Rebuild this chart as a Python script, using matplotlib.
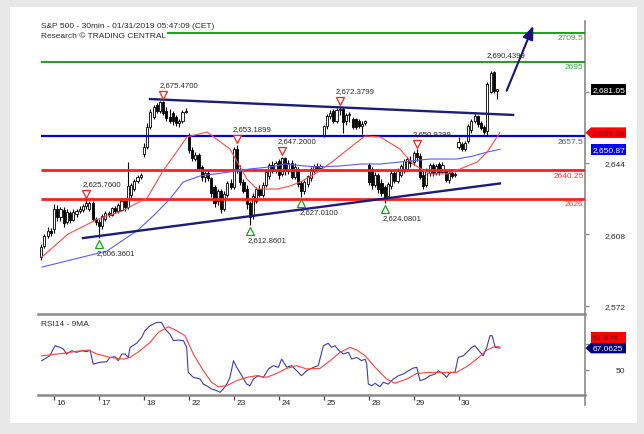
import matplotlib
matplotlib.use('Agg')
import matplotlib.pyplot as plt
from matplotlib.patches import Rectangle, Polygon
from matplotlib.lines import Line2D
import matplotlib.transforms as mtrans

plt.rcParams['font.family'] = ['Liberation Sans', 'DejaVu Sans']

# ---------------- data ----------------
title = "S&P 500 - 30min - 01/31/2019 05:47:09 (CET)"
subtitle = "Research \u00a9 TRADING CENTRAL"
rsi_title = "RSI14 - 9MA"

day_labels = ['16', '17', '18', '22', '23', '24', '25', '28', '29', '30']
day_start_bar = [4, 18, 32, 46, 60, 74, 88, 102, 116, 130]

opens = [2596.5, 2602, 2607, 2610,
         2611, 2621, 2617, 2620.5, 2614.5, 2619, 2615.5, 2618.5, 2620, 2620.5, 2622.5, 2621, 2624, 2616,
         2614.5, 2612.5, 2616, 2619, 2618, 2621.5, 2620, 2620.5, 2625, 2622, 2628, 2631, 2635, 2637,
         2648.5, 2652, 2662, 2667, 2673, 2670, 2674.5, 2670, 2667, 2669, 2667, 2664, 2665, 2669.5,
         2657, 2650.5, 2646, 2648, 2642, 2637, 2639, 2636.5, 2632, 2625, 2630, 2621, 2628, 2634,
         2632, 2651, 2641, 2634.5, 2631, 2624, 2617.5, 2625, 2631, 2628, 2633, 2637.5, 2643, 2640,
         2645, 2638.5, 2646.5, 2640, 2644, 2637, 2641, 2634, 2630, 2633.5, 2636.5, 2640, 2642.5, 2641.5,
         2657.5, 2662.5, 2667.5, 2670, 2665, 2670.5, 2671, 2665, 2668, 2666, 2666, 2665, 2662.5, 2664,
         2643, 2641, 2633, 2638, 2634, 2632, 2627.5, 2632.5, 2639, 2635, 2638, 2640, 2641, 2645,
         2644.5, 2649, 2647.5, 2638, 2633, 2639, 2643, 2639, 2643.5, 2639.5, 2640, 2635.5, 2639, 2638,
         2652, 2653.5, 2651, 2655, 2660.5, 2665, 2667.5, 2664, 2662, 2660, 2680, 2690, 2680.5]
highs = [2603, 2608, 2612, 2611.5,
         2623.5, 2623, 2622, 2622, 2621, 2620, 2621, 2621, 2622.5, 2623.5, 2625.76, 2625, 2625, 2617,
         2616, 2618.5, 2620, 2620, 2622, 2622.5, 2624, 2626.5, 2626, 2644.3, 2634, 2636, 2638, 2639,
         2654, 2664, 2671, 2673, 2674, 2675, 2675.47, 2672, 2671, 2670, 2668, 2666, 2670.5, 2671.5,
         2659, 2652, 2649.5, 2649, 2643, 2640, 2640.5, 2637, 2633, 2631, 2631, 2630, 2635, 2636,
         2652, 2653.19, 2643, 2636, 2633, 2625, 2629, 2632, 2633, 2634.5, 2641, 2644, 2645, 2645,
         2646, 2647.2, 2647, 2645.5, 2645.5, 2644, 2642, 2635, 2635.5, 2638, 2642, 2643.5, 2644, 2643.5,
         2663, 2668.5, 2670.5, 2671, 2671.5, 2672.38, 2672, 2669, 2669.5, 2667, 2666.5, 2666, 2665, 2665.5,
         2644, 2642, 2639.5, 2639, 2636, 2633, 2634.5, 2640.5, 2640, 2641.5, 2643.5, 2646, 2647, 2647.5,
         2650, 2650.93, 2649, 2641, 2641.5, 2644, 2644, 2643.5, 2644.5, 2644.5, 2641, 2640, 2640, 2639.5,
         2657, 2654.5, 2655, 2663.5, 2666, 2669.5, 2668, 2665, 2663, 2685, 2690.44, 2690.44, 2681.5]
lows = [2595, 2601, 2606, 2607,
        2609, 2615, 2615, 2612, 2613.5, 2614, 2615, 2617, 2619, 2619.5, 2621, 2620, 2615, 2613,
        2606.36, 2611, 2615, 2617, 2617.5, 2619, 2619, 2620, 2620, 2621, 2626, 2630, 2634, 2636,
        2647, 2651, 2661, 2666, 2669, 2669, 2668, 2665, 2664, 2663, 2662.5, 2662, 2664, 2669,
        2649, 2645, 2645, 2640, 2635, 2634.5, 2635, 2627, 2622, 2623, 2619, 2620, 2627, 2631,
        2631, 2639, 2633, 2629, 2621, 2612.86, 2616, 2624, 2627, 2627, 2632, 2636, 2639, 2639,
        2636, 2637.5, 2638, 2638.5, 2636, 2636, 2632, 2627.01, 2628.5, 2632, 2635, 2639, 2640, 2641,
        2657, 2661, 2666, 2664, 2664, 2668, 2659, 2663, 2664.5, 2661, 2661, 2661.5, 2658.5, 2663,
        2633, 2631, 2632, 2629, 2627.5, 2624.08, 2626.5, 2631, 2634, 2634, 2637, 2639, 2640, 2642,
        2643, 2645, 2636, 2631, 2632, 2637.5, 2637.5, 2638, 2638, 2639, 2634.5, 2634, 2636.5, 2637,
        2651, 2650, 2650, 2654, 2659, 2664, 2662, 2660.5, 2658.5, 2657.5, 2679, 2679, 2676]
closes = [2601.5, 2607, 2610, 2609,
          2621, 2617, 2620.8, 2614, 2619.5, 2615.5, 2619.5, 2620, 2621, 2622.5, 2624, 2624, 2616, 2614.5,
          2612.5, 2617.5, 2619, 2618, 2621.5, 2620, 2623, 2625, 2622, 2632.5, 2633, 2635, 2637, 2638,
          2652, 2662, 2669.5, 2672, 2670, 2674.5, 2669, 2666.5, 2665, 2665, 2664, 2665, 2669.5, 2670,
          2650.5, 2646.5, 2648, 2641.5, 2637, 2639, 2636.5, 2629, 2624, 2630, 2621, 2628.5, 2634, 2632,
          2651, 2641, 2634.5, 2630, 2623.5, 2617, 2627.5, 2631, 2628, 2633, 2639.5, 2643, 2640, 2644,
          2638, 2646.5, 2640, 2644, 2637, 2642, 2633.5, 2630, 2634.5, 2637.5, 2641, 2642.5, 2641.5, 2642.5,
          2662.5, 2667.5, 2669, 2665, 2670.5, 2671, 2664.5, 2668, 2668.5, 2662, 2662, 2662.5, 2663.5, 2665,
          2634.5, 2633, 2638, 2631, 2629, 2627, 2633.5, 2639, 2635, 2640, 2642.5, 2645, 2646, 2644,
          2649, 2647, 2637, 2632.5, 2640.5, 2643, 2639, 2642.5, 2639.5, 2643, 2635.5, 2639, 2637.5, 2638.5,
          2654.5, 2651, 2654, 2662.5, 2665, 2667.5, 2663.5, 2661.5, 2659.5, 2684, 2689.5, 2680.5, 2681.05]

# price moving averages (vertices at bar positions)
ma_fast_x = [0.25, 8.35, 17.7, 25.2, 29.2, 33.0, 37.9, 41.7, 45.4, 51.7, 58.8, 64.1, 67.2, 70.6,
             73.5, 77.5, 80.6, 85.3, 90.6, 95.6, 100.9, 105.6, 111.8, 115.8, 121.1, 126.4, 130.5,
             135.8, 138.9, 142.9]
ma_fast = [2596.7, 2608.2, 2615.8, 2619.8, 2623.3, 2626.3, 2639.9, 2648.5, 2657.1, 2659.6, 2651.0,
           2635.9, 2630.9, 2630.9, 2630.9, 2632.4, 2634.4, 2638.5, 2644.5, 2651.0, 2657.6, 2657.1,
           2651.0, 2643.5, 2638.5, 2638.5, 2641.0, 2644.5, 2649.5, 2659.28]
ma_slow_x = [0.25, 10.5, 20.5, 30.2, 35.5, 40.1, 44.2, 49.5, 58.8, 65.0, 71.3, 75.9, 82.2, 86.2,
             93.1, 99.9, 105.6, 111.8, 121.1, 129.5, 134.5, 138.9, 142.9]
ma_slow = [2591.6, 2595.7, 2599.7, 2610.3, 2618.3, 2625.9, 2634.4, 2637.5, 2639.5, 2641.0, 2642.0,
           2643.5, 2642.5, 2642.0, 2642.5, 2643.5, 2643.5, 2644.5, 2646.0, 2646.0, 2647.5, 2649.5,
           2650.87]

levels = [2709.5, 2695, 2657.5, 2640.25, 2626]
level_labels = ['2709.5', '2695', '2657.5', '2640.25', '2626']

trend_upper_x = [33.9, 147.0]
trend_upper_y = [2676.2, 2668.2]
trend_lower_x = [13.0, 142.9]
trend_lower_y = [2606.2, 2633.7]
arrow_x = [145.0, 153.3]
arrow_y = [2680.4, 2713.1]

peak_bars = [14, 38, 61, 75, 93, 117, 140]
peak_vals = [2625.76, 2675.47, 2653.1899, 2647.20, 2672.3799, 2650.9299, 2690.4399]
peak_has_marker = [True, True, True, True, True, True, False]
trough_bars = [18, 65, 81, 107]
trough_vals = [2606.3601, 2612.8601, 2627.0100, 2624.0801]

price_ticks = [2572, 2608, 2644]
price_hidden_ticks = [2680]
last_close = 2681.05
ma_fast_last = 2659.28
ma_slow_last = 2650.87

rsi_x = [0.15, 2.7, 4.3, 5.9, 6.9, 7.9, 9.5, 11.0, 12.6, 14.2, 15.2, 16.2, 18.3, 20.4, 21.4, 23.0,
         24.0, 25.1, 26.1, 27.1, 27.7, 29.7, 31.3, 32.3, 33.9, 36.0, 37.5, 38.6, 40.1, 41.2, 42.7,
         44.3, 45.3, 45.8, 47.4, 49.5, 50.5, 51.5, 53.1, 54.7, 55.7, 56.7, 57.8, 58.8, 59.9, 60.9,
         62.5, 64.0, 65.0, 66.1, 67.6, 69.2, 70.8, 72.3, 73.9, 74.9, 76.5, 78.0, 79.6, 81.1, 82.7,
         84.8, 86.3, 87.9, 89.4, 90.5, 91.5, 92.6, 94.1, 95.7, 96.7, 98.3, 99.8, 100.9, 101.4, 101.9,
         103.0, 104.0, 105.5, 106.6, 108.1, 109.7, 111.3, 112.8, 114.4, 115.9, 117.0, 118.0, 119.6,
         121.1, 122.7, 123.7, 125.3, 126.3, 127.4, 128.9, 129.9, 131.5, 133.1, 134.1, 135.1, 136.2,
         137.7, 138.8, 139.8, 140.5, 141.4, 142.9]
rsi_vals = [57.1, 61.0, 68.9, 67.6, 66.3, 62.4, 65.0, 63.7, 65.0, 64.2, 65.5, 54.5, 55.8, 56.3, 59.7,
            60.3, 57.1, 62.4, 62.4, 59.7, 67.6, 70.8, 75.5, 80.7, 84.7, 87.3, 87.3, 82.0, 78.1, 72.9,
            73.4, 72.9, 67.6, 47.9, 44.0, 42.7, 38.7, 37.4, 34.8, 33.5, 32.2, 34.8, 38.7, 44.0, 57.1,
            51.9, 45.3, 38.7, 37.4, 42.7, 45.3, 44.0, 50.6, 53.2, 51.9, 58.4, 51.9, 53.2, 49.2, 45.3,
            49.2, 51.9, 53.2, 68.9, 70.8, 67.6, 68.9, 65.5, 62.4, 63.7, 58.4, 59.7, 57.1, 58.4, 54.5,
            38.7, 37.4, 39.3, 36.6, 40.1, 38.7, 42.7, 45.3, 46.6, 49.2, 51.3, 51.9, 41.4, 42.7, 45.3,
            46.6, 49.2, 46.6, 44.0, 47.9, 47.9, 59.7, 61.0, 65.0, 67.6, 68.9, 65.5, 61.0, 67.6, 76.8,
            76.8, 67.6, 67.0625]
rsi_ma_x = [0.15, 6.9, 11.0, 14.7, 17.3, 21.4, 25.6, 27.7, 30.8, 33.9, 36.5, 39.6, 42.2, 44.8, 47.4,
            50.5, 53.1, 55.2, 57.8, 60.9, 64.0, 67.1, 70.2, 73.4, 76.5, 79.6, 82.7, 86.9, 90.0, 93.1,
            96.2, 98.3, 100.9, 104.5, 107.6, 110.2, 113.9, 117.0, 121.1, 125.3, 129.4, 132.5, 135.7,
            138.8, 141.4, 142.9]
rsi_ma_vals = [61.0, 62.9, 64.5, 65.5, 62.4, 59.7, 58.4, 59.7, 65.0, 71.5, 79.4, 83.9, 80.7, 76.8,
               62.4, 49.2, 40.1, 36.6, 37.4, 41.4, 44.0, 45.3, 44.0, 47.1, 51.1, 53.2, 50.6, 51.1,
               57.1, 63.7, 67.6, 65.5, 61.0, 50.6, 42.7, 39.3, 42.7, 47.1, 47.9, 47.9, 47.9, 52.4,
               58.4, 65.5, 68.4, 67.834]
rsi_ticks = [50]
rsi_hidden_ticks = [70]
rsi_last = 67.0625
rsi_ma_last = 67.834

# ---------------- styles ----------------
W, H = 644, 435
GREEN, GREEN_T = '#00a000', '#3aa83a'
BLUE_L, BLUE_T = '#0000c8', '#4a4aff'
RED_L, RED_T = '#ff1e1e', '#ff3a3a'
NAVY = '#1c1c7a'
GRAY = '#8a8a8a'
TXT = '#2a2a2a'
FS = 6.0


def fx(x):
    return x / W


def fy(y):
    return 1 - y / H


fig = plt.figure(figsize=(W / 100, H / 100), dpi=100)
fig.patch.set_facecolor('#e8e8e8')
fig.add_artist(Rectangle((fx(10), fy(424)), fx(627), 416 / H, transform=fig.transFigure,
                         facecolor='white', edgecolor='none', zorder=-10))

ax = fig.add_axes([fx(38), fy(315), 547 / W, 293 / H])
ax2 = fig.add_axes([fx(38), fy(396), 547 / W, 81 / H])
for a in (ax, ax2):
    a.set_facecolor('none')
    a.set_xlim(-1.0, 169.4)
ax.set_ylim(2567.97, 2715.5)
ax2.set_ylim(30.1, 93.9)

# ---- candles ----
n = len(closes)
xs = list(range(n))
ax.vlines(xs, lows, highs, color='black', lw=0.8, zorder=2)
for i in xs:
    o, c = opens[i], closes[i]
    lo, hi = min(o, c), max(o, c)
    h = max(hi - lo, 0.35)
    up = c >= o
    ax.add_patch(Rectangle((i - 0.33, lo), 0.66, h, facecolor='white' if up else 'black',
                           edgecolor='black', lw=0.6, zorder=2.5))

# ---- levels ----
lvl_colors = [GREEN, GREEN, BLUE_L, RED_L, RED_L]
lvl_tcolors = [GREEN_T, GREEN_T, BLUE_T, RED_T, RED_T]
lvl_lw = [1.3, 1.3, 1.6, 2.0, 2.0]
for v, lab, c, tc, lw in zip(levels, level_labels, lvl_colors, lvl_tcolors, lvl_lw):
    ax.plot([-0.1, 169.4], [v, v], color=c, lw=lw, zorder=3, solid_capstyle='butt')
    tr = mtrans.offset_copy(mtrans.blended_transform_factory(ax.transAxes, ax.transData),
                            fig=fig, x=-1.5, y=-1.5, units='dots')
    ax.text(1.0, v, lab, transform=tr, ha='right', va='top', fontsize=FS, color=tc, zorder=4)

# ---- moving averages ----
ax.plot(ma_slow_x, ma_slow, color='#5a5aff', lw=0.8, zorder=3.2)
ax.plot(ma_fast_x, ma_fast, color='#ff4a4a', lw=0.8, zorder=3.3)

# ---- trend lines & arrow ----
ax.plot(trend_upper_x, trend_upper_y, color=NAVY, lw=1.7, zorder=3.5)
ax.plot(trend_lower_x, trend_lower_y, color=NAVY, lw=1.7, zorder=3.5)
ax.annotate('', xy=(arrow_x[1], arrow_y[1]), xytext=(arrow_x[0], arrow_y[0]),
            arrowprops=dict(arrowstyle='-|>,head_length=0.8,head_width=0.32', color='#14147a',
                            lw=1.5, shrinkA=0, shrinkB=0), zorder=4)

# ---- peaks / troughs ----
for b, v, m in zip(peak_bars, peak_vals, peak_has_marker):
    if m:
        tr = mtrans.offset_copy(ax.transData, fig=fig, x=0, y=5.5, units='dots')
        ax.plot([b], [v], marker='v', ms=6.2, mfc='white', mec='#ff2020', mew=0.9,
                transform=tr, zorder=5, linestyle='none')
    tr = mtrans.offset_copy(ax.transData, fig=fig, x=-4, y=16, units='dots')
    ax.text(b, v, f"{v:,.4f}", transform=tr, ha='left', va='center', fontsize=5.6,
            color=TXT, zorder=5)
for b, v in zip(trough_bars, trough_vals):
    tr = mtrans.offset_copy(ax.transData, fig=fig, x=0, y=-6, units='dots')
    ax.plot([b], [v], marker='^', ms=6.2, mfc='white', mec='#18a018', mew=0.9,
            transform=tr, zorder=5, linestyle='none')
    tr = mtrans.offset_copy(ax.transData, fig=fig, x=-2, y=-15, units='dots')
    ax.text(b, v, f"{v:,.4f}", transform=tr, ha='left', va='center', fontsize=5.6,
            color=TXT, zorder=5)

# ---- main axis styling ----
for s in ('left', 'top', 'bottom'):
    ax.spines[s].set_visible(False)
ax.spines['right'].set_color(GRAY)
ax.spines['right'].set_linewidth(1.2)
ax.set_xticks([])
ax.yaxis.tick_right()
ax.set_yticks(price_ticks)
ax.set_yticks(price_hidden_ticks, minor=True)
ax.set_yticklabels([f"{t:,}" for t in price_ticks])
ax.tick_params(axis='y', which='both', length=3, width=0.9, color=GRAY, pad=26, labelsize=FS,
               labelcolor=TXT)
for lab in ax.get_yticklabels():
    lab.set_horizontalalignment('right')

# ---- RSI panel ----
ax2.plot(rsi_x, rsi_vals, color='#3c3ca8', lw=0.8, zorder=3)
ax2.plot(rsi_ma_x, rsi_ma_vals, color='#ff4040', lw=0.8, zorder=3)
ax2.spines['left'].set_visible(False)
for s in ('top', 'bottom'):
    ax2.spines[s].set_color(GRAY)
    ax2.spines[s].set_linewidth(1.8)
ax2.spines['right'].set_color(GRAY)
ax2.spines['right'].set_linewidth(1.2)
ax2.yaxis.tick_right()
ax2.set_yticks(rsi_ticks)
ax2.set_yticks(rsi_hidden_ticks, minor=True)
ax2.set_yticklabels([str(t) for t in rsi_ticks])
ax2.tick_params(axis='y', which='both', length=3, width=0.9, color=GRAY, pad=26, labelsize=FS,
                labelcolor=TXT)
for lab in ax2.get_yticklabels():
    lab.set_horizontalalignment('right')
ax2.set_xticks(day_start_bar)
ax2.set_xticklabels([])
ax2.tick_params(axis='x', length=3.5, width=0.9, color='#444444', direction='out')
trx = mtrans.offset_copy(mtrans.blended_transform_factory(ax2.transData, ax2.transAxes),
                         fig=fig, x=2.5, y=-7.5, units='dots')
for d, lab in zip(day_start_bar, day_labels):
    ax2.text(d, 0, lab, transform=trx, ha='left', va='center', fontsize=FS, color=TXT)
ax2.text(0.006, 0.93, rsi_title, transform=ax2.transAxes, ha='left', va='top',
         fontsize=FS, color=TXT)
fig.add_artist(Line2D([fx(585), fx(585)], [fy(396), fy(406)], transform=fig.transFigure,
                      color=GRAY, lw=1.2))

# ---- titles ----
fig.text(fx(41), fy(26.5), title, ha='left', va='center', fontsize=FS, color=TXT)
fig.text(fx(41), fy(36.8), subtitle, ha='left', va='center', fontsize=FS, color=TXT,
         bbox=dict(facecolor='white', edgecolor='none', pad=0.6), zorder=6)

# ---- value boxes on the right axis ----
fig.canvas.draw()


def disp_y(a, v):
    return a.transData.transform((0, v))[1]


def box(yc, color, text, tcolor, arrow=False, hh=5.3):
    x0, x1 = 591, 626
    yc_f = yc / H
    h = hh / H
    if arrow:
        pts = [(fx(585.5), yc_f), (fx(x0), yc_f + h), (fx(x1), yc_f + h),
               (fx(x1), yc_f - h), (fx(x0), yc_f - h)]
        fig.add_artist(Polygon(pts, closed=True, transform=fig.transFigure,
                               facecolor=color, edgecolor='none', zorder=7))
    else:
        fig.add_artist(Rectangle((fx(x0), yc_f - h), (x1 - x0) / W, 2 * h,
                                 transform=fig.transFigure, facecolor=color,
                                 edgecolor='none', zorder=7))
    fig.text(fx(593), yc_f, text, ha='left', va='center', fontsize=FS, color=tcolor, zorder=8)


box(disp_y(ax, last_close), 'black', f"{last_close:,.2f}", 'white')
box(disp_y(ax, ma_fast_last), '#ff0000', f"{ma_fast_last:,.2f}", '#5a0000', arrow=True)
box(disp_y(ax, ma_slow_last), '#0000ff', f"{ma_slow_last:,.2f}", 'white')
yb = disp_y(ax2, rsi_last)
box(yb, '#000080', f"{rsi_last:.4f}", 'white', arrow=True)
box(yb + 10.6, '#ff0000', f"{rsi_ma_last:.3f}", '#5a0000')

fig.savefig('out.png', dpi=100, facecolor=fig.get_facecolor())
